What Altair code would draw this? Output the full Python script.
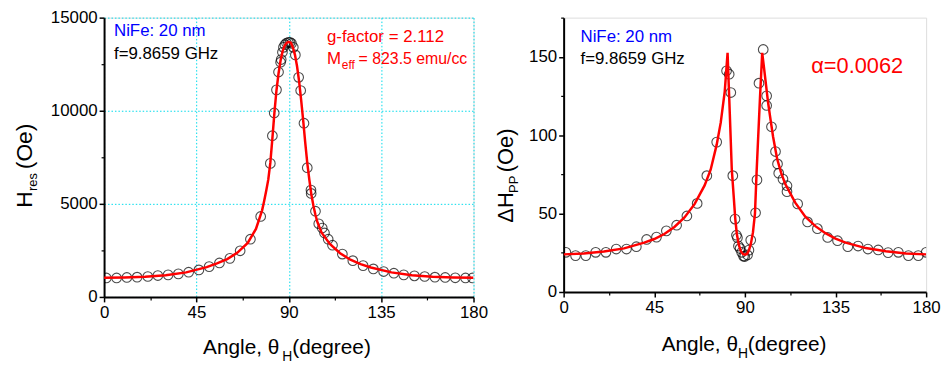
import altair as alt
import pandas as pd

FONT = "Liberation Sans"

# ---------------- data ----------------
hres_angle = [1.1, 6.1, 11.1, 16.1, 21.3, 26.2, 31.2, 36.2, 41.2, 46.2, 51.2, 56.2, 61.3, 66.3, 71.3,
              76.3, 81.0, 82.0, 82.9, 84.0, 85.0, 86.0, 86.3, 86.9, 87.4, 88.1, 88.9, 89.8, 90.6,
              91.3, 92.2, 93.2, 94.8, 95.8, 97.4, 99.0, 100.8, 100.9, 103.0, 104.6, 106.3, 107.4,
              109.2, 111.3, 116.1, 121.2, 126.2, 131.2, 136.2, 141.2, 146.0, 151.2, 156.2, 161.2,
              166.2, 171.1, 176.1, 179.5]
hres_value = [1020, 1020, 1045, 1062, 1098, 1151, 1186, 1240, 1328, 1452, 1629, 1824, 2072, 2479, 3099,
              4321, 7172, 8659, 9881, 11121, 12077, 12608, 12750, 13140, 13405, 13547, 13635, 13670, 13670,
              13617, 13405, 12998, 11794, 11086, 9332, 6942, 5738, 5560, 4604, 3931, 3701, 3435,
              3099, 2780, 2302, 1948, 1682, 1505, 1364, 1275, 1186, 1133, 1098, 1062,
              1045, 1027, 1020, 1020]

hres_fit_angle = [0, 10, 20, 30, 40, 50, 55, 60, 65, 70, 74, 77, 78, 79, 80, 81, 82, 83, 84, 85, 86, 87,
                  88, 89, 90, 91, 92, 93, 94, 95, 96, 97, 98, 99, 100, 101, 102, 103, 104, 106, 110,
                  115, 120, 125, 130, 140, 150, 160, 170, 180]
hres_fit_value = [1030, 1050, 1090, 1170, 1320, 1600, 1800, 2030, 2380, 2900, 3650, 4650, 5150, 5700,
                  6300, 7200, 8500, 9900, 11100, 12000, 12700, 13200, 13500, 13650, 13700, 13650, 13400,
                  13000, 12400, 11600, 10600, 9500, 8300, 7200, 6300, 5500, 4900, 4400, 4000, 3450,
                  2850, 2350, 2000, 1760, 1580, 1320, 1170, 1090, 1050, 1030]

dh_angle = [1.1, 5.9, 11.0, 15.9, 21.0, 26.1, 31.2, 36.1, 41.2, 46.1, 51.0, 56.1, 61.2, 66.3, 71.1,
            76.0, 80.9, 82.2, 83.0, 84.0, 85.1, 85.8, 86.3, 86.8, 87.6, 88.4, 89.3, 89.9, 91.3, 92.0,
            92.9, 95.3, 96.0, 97.0, 99.1, 100.8, 100.8, 103.2, 105.2, 106.2, 106.8, 108.9, 110.9,
            110.9, 116.2, 121.1, 126.0, 131.1, 136.0, 141.1, 146.2, 151.1, 156.2, 161.1, 166.2,
            171.2, 176.1, 180.0]
dh_value = [25.3, 23.2, 23.2, 25.3, 25.3, 27.4, 27.4, 28.9, 33.5, 35.0, 39.0, 42.6, 48.5, 56.5, 74.2,
            95.6, 141.1, 138.9, 127.2, 74.2, 46.5, 36.2, 34.6, 29.3, 27.8, 25.3, 22.9, 22.6, 23.6, 26.7,
            33.1, 50.5, 71.5, 133.2, 154.7, 125.1, 119.0, 105.4, 89.6, 81.7, 75.8, 72.0, 67.8,
            64.0, 56.2, 44.7, 40.4, 34.8, 32.7, 28.9, 29.3, 27.4, 26.8, 25.1, 25.3,
            23.2, 23.2, 25.3]

dh_fit_angle = [0, 10, 20, 30, 40, 45, 50, 55, 60, 65, 70, 73, 76, 78, 80, 81.4, 82.5, 83.5, 84.5,
                85.2, 86, 87, 88, 89, 90, 91, 92, 93, 94, 95, 95.8, 96.5, 97.5, 98.6, 99.5, 100.5,
                101.5, 102.5, 104, 106, 108, 110, 115, 120, 125, 130, 135, 140, 150, 160, 170, 180]
dh_fit_value = [24, 24.6, 25.8, 27.8, 31.5, 33.8, 37, 41.5, 47.5, 56, 68, 78, 94, 108, 128, 152.5, 114,
                78, 60, 47, 37, 30, 26, 24.3, 23.8, 24.3, 26.5, 31, 38, 50, 76, 96, 124, 152.5, 143,
                132, 121, 112, 99, 85, 76, 69, 57, 48, 42, 37.5, 34, 31.5, 28, 26, 24.6, 24]

x_ticks = [0, 45, 90, 135, 180]
x_minor = [22.5, 67.5, 112.5, 157.5]
hres_ticks = [0, 5000, 10000, 15000]
hres_minor = [2500, 7500, 12500]
dh_ticks = [0, 50, 100, 150]
dh_minor = [25, 75, 125, 175]

ONE = pd.DataFrame({"k": [0]})


def txt(s, x, y, size, color="black", angle=None):
    kw = dict(text=s, align="left", baseline="alphabetic", fontSize=size, color=color, font=FONT)
    if angle is not None:
        kw["angle"] = angle
    return alt.Chart(ONE).mark_text(**kw).encode(x=alt.value(x), y=alt.value(y))


def panel(ang, val, fang, fval, ydom, yticks, yminor, grid, w, h, texts):
    pts = pd.DataFrame({"angle": ang, "value": val})
    fit = pd.DataFrame({"angle": fang, "value": fval})
    xs = alt.Scale(domain=[0, 180], nice=False, zero=False)
    ys = alt.Scale(domain=ydom, nice=False, zero=False)
    common = dict(labelFontSize=17, labelFont=FONT, labelColor="black", tickColor="black",
                  tickSize=5, tickWidth=1.5, domainColor="black", domainWidth=2,
                  labelFlush=False, labelOverlap=False, title=None, format="d",
                  grid=grid, gridColor="#00dcec", gridDash=[1.5, 2], gridWidth=1)
    xa = alt.Axis(values=x_ticks, orient="bottom", labelPadding=3, **common)
    ya = alt.Axis(values=yticks, orient="left", labelPadding=2, **common)
    minor = dict(labels=False, tickSize=3, tickWidth=1.2, tickColor="black", domain=False,
                 grid=False, title=None)

    points = alt.Chart(pts).mark_point(shape="circle", filled=False, size=95, color="black",
                                       strokeWidth=1.1, clip=True).encode(
        x=alt.X("angle:Q", scale=xs, axis=xa),
        y=alt.Y("value:Q", scale=ys, axis=ya),
    )
    line = alt.Chart(fit).mark_line(color="#ff0000", strokeWidth=2.5, clip=True).encode(
        x=alt.X("angle:Q", scale=xs, axis=None),
        y=alt.Y("value:Q", scale=ys, axis=None),
    )
    mticks = alt.Chart(fit).mark_point(opacity=0).encode(
        x=alt.X("angle:Q", scale=xs, axis=alt.Axis(values=x_minor, orient="bottom", **minor)),
        y=alt.Y("value:Q", scale=ys, axis=alt.Axis(values=yminor, orient="left", **minor)),
    )
    layers = [points, line, mticks] + texts
    return alt.layer(*layers).resolve_axis(x="independent", y="independent").properties(
        width=w, height=h)


left_texts = [
    txt("NiFe: 20 nm", 10, 19, 17, "#0000ff"),
    txt("f=9.8659 GHz", 10, 41.5, 17),
    txt("g-factor = 2.112", 225, 25, 17, "#ff0000"),
    txt("M", 225, 46.5, 17, "#ff0000"),
    txt("eff", 240, 52, 12, "#ff0000"),
    txt("= 823.5 emu/cc", 257, 46.5, 16, "#ff0000"),
    txt("Angle, \u03b8", 100, 340, 21),
    txt("H", 180, 347, 14),
    txt("(degree)", 190, 340, 21),
    txt("H", -73, 192, 23, angle=270),
    txt("res", -67.5, 175, 13, angle=270),
    txt("(Oe)", -73, 153, 23, angle=270),
]

right_texts = [
    txt("NiFe: 20 nm", 17, 25, 17, "#0000ff"),
    txt("f=9.8659 GHz", 17, 46.5, 17),
    txt("\u03b1=0.0062", 250, 55.5, 22, "#ff0000"),
    txt("Angle, \u03b8", 99, 337, 21),
    txt("H", 176, 344, 14),
    txt("(degree)", 186, 337, 21),
    txt("\u0394H", -51, 207, 22, angle=270),
    txt("PP", -46, 177, 13, angle=270),
    txt("(Oe)", -51, 156, 22, angle=270),
]

left = panel(hres_angle, hres_value, hres_fit_angle, hres_fit_value, [0, 15000], hres_ticks,
             hres_minor, True, 373, 282, left_texts)
right = panel(dh_angle, dh_value, dh_fit_angle, dh_fit_value, [0, 175], dh_ticks,
              dh_minor, False, 366, 277, right_texts)

chart = alt.hconcat(left, right, spacing=91, bounds="flush").properties(
    padding={"left": 5, "top": -2, "right": 0, "bottom": 0}
).configure_view(stroke="black", strokeWidth=1.5).configure(background="white")

chart.save("out.html", embed_options={"renderer": "svg", "actions": False})
